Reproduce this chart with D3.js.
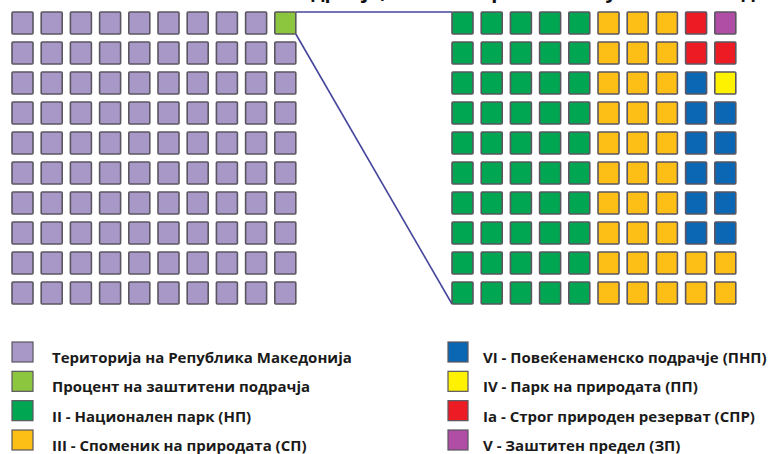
<!DOCTYPE html>
<html>
<head>
<meta charset="utf-8">
<script src="https://cdn.jsdelivr.net/npm/d3@7"></script>
<style>
  html, body { margin: 0; padding: 0; background: #ffffff; }
  svg { display: block; }
  text { font-family: "Open Sans", "Noto Sans", sans-serif; }
</style>
</head>
<body>
<svg id="chart" width="777" height="454"></svg>
<script>
// Legend labels, in legend order (left column then right column)
const territoryLabels = ["Територија на Република Македонија", "Процент на заштитени подрачја"];
const categoryLabels = [
  "II - Национален парк (НП)",
  "III - Споменик на природата (СП)",
  "VI - Повеќенаменско подрачје (ПНП)",
  "IV - Парк на природата (ПП)",
  "Ia - Строг природен резерват (СПР)",
  "V - Заштитен предел (ЗП)"
];
// Number of cells (out of 100) per group
const territoryCells = [99, 1];
const categoryCells = [50, 34, 11, 1, 3, 1];
const territoryColors = ["#a898c8", "#8cc63f"];
const categoryColors = ["#00a651", "#fdbf16", "#0b66b3", "#fff200", "#ed1c24", "#b04ea5"];
const titleText = "Застапеност на заштитени подрачја, по категории во Република Македонија";

const svg = d3.select("#chart");
const N = 10;

// Shared layout scales
const rowScale = d3.scaleBand().domain(d3.range(N)).range([12, 304]).paddingInner(0.267);
const leftCol = d3.scaleBand().domain(d3.range(N)).range([12, 295.8]).paddingInner(0.281);
const rightCol = d3.scaleBand().domain(d3.range(N)).range([452, 735.8]).paddingInner(0.281);

// Expand counts into one entry per cell
function expand(counts) {
  const out = [];
  counts.forEach((c, k) => { for (let i = 0; i < c; i++) out.push(k); });
  return out;
}

// Left grid: filled row by row from the bottom-left, ending at the top-right cell
const leftCells = expand(territoryCells).map((k, i) => ({
  k, row: N - 1 - Math.floor(i / N), col: i % N
}));

// Right grid: first 8 columns filled column by column, last two columns from the bottom up
const rightCells = expand(categoryCells).map((k, i) => {
  if (i < 80) return { k, col: Math.floor(i / N), row: i % N };
  const j = i - 80;
  return { k, row: N - 1 - Math.floor(j / 2), col: 8 + (j % 2) };
});

// Title (runs off the top edge, only its lowest strokes show)
svg.append("text")
  .attr("x", -4).attr("y", -2)
  .attr("font-size", 20).attr("font-weight", 700).attr("fill", "#111")
  .text(titleText);

// Connector lines from the highlighted cell to the breakdown grid
const bw = leftCol.bandwidth(), bh = rowScale.bandwidth();
const g = svg.append("g");
g.append("line")
  .attr("x1", leftCol(9) + bw).attr("y1", rowScale(0))
  .attr("x2", rightCol(0)).attr("y2", rowScale(0))
  .attr("stroke", "#46469c").attr("stroke-width", 1.6);
g.append("line")
  .attr("x1", leftCol(9) + bw).attr("y1", rowScale(0) + bh)
  .attr("x2", rightCol(0)).attr("y2", rowScale(N - 1) + bh)
  .attr("stroke", "#46469c").attr("stroke-width", 1.6);

function drawGrid(cells, xScale, colors) {
  svg.append("g").selectAll("rect").data(cells).join("rect")
    .attr("x", d => xScale(d.col))
    .attr("y", d => rowScale(d.row))
    .attr("width", xScale.bandwidth())
    .attr("height", rowScale.bandwidth())
    .attr("rx", 1).attr("ry", 1)
    .attr("fill", d => colors[d.k])
    .attr("stroke", "#5b5660").attr("stroke-width", 1.6);
}
drawGrid(leftCells, leftCol, territoryColors);
drawGrid(rightCells, rightCol, categoryColors);

// Legend
const legendItems = [
  ...territoryLabels.map((t, i) => ({ t, c: territoryColors[i] })),
  ...categoryLabels.map((t, i) => ({ t, c: categoryColors[i] }))
];
const legendRow = d3.scalePoint().domain(d3.range(4)).range([342, 430]);
const legendCol = [{ sx: 12, tx: 52, sw: 21 }, { sx: 448, tx: 483, sw: 20 }];
const lg = svg.append("g").selectAll("g").data(legendItems).join("g")
  .attr("transform", (d, i) => `translate(0,${legendRow(i % 4)})`);
lg.append("rect")
  .attr("x", (d, i) => legendCol[Math.floor(i / 4)].sx)
  .attr("y", 0)
  .attr("width", (d, i) => legendCol[Math.floor(i / 4)].sw)
  .attr("height", 20)
  .attr("fill", d => d.c)
  .attr("stroke", "#5b5660").attr("stroke-width", 1.2);
lg.append("text")
  .attr("x", (d, i) => legendCol[Math.floor(i / 4)].tx)
  .attr("y", 21)
  .attr("font-size", 15).attr("font-weight", 700).attr("fill", "#1a1a1a")
  .text(d => d.t);
</script>
</body>
</html>
